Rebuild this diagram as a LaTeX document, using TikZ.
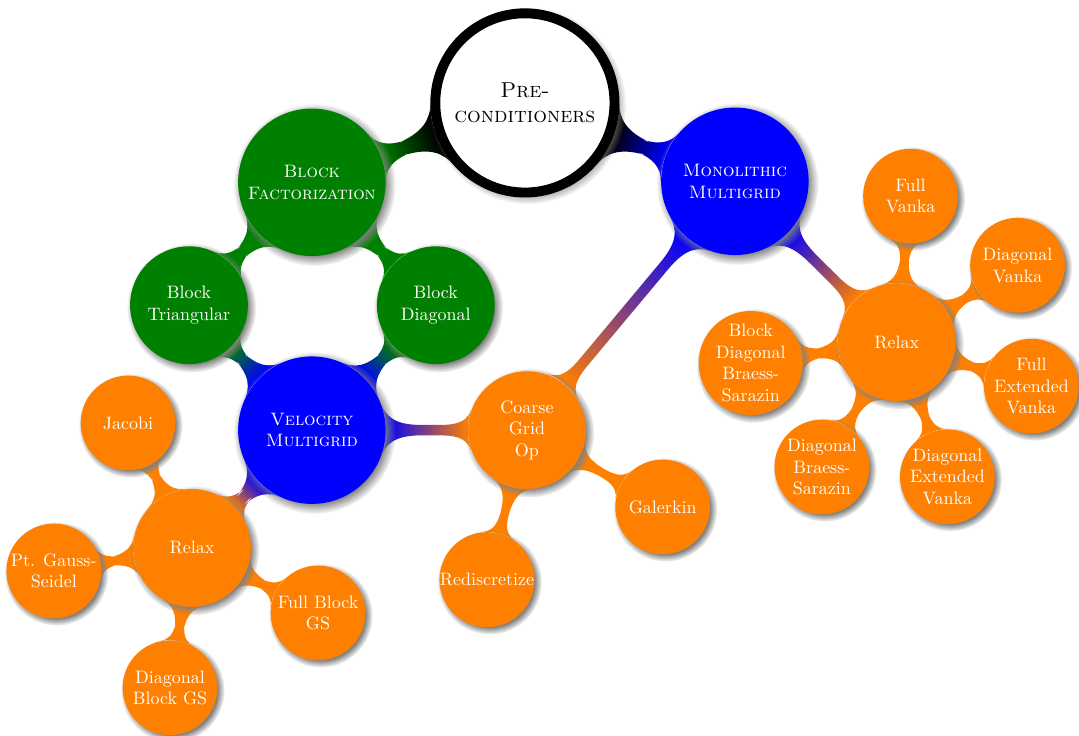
\documentclass[tikz,border=0pt]{standalone}
\usepackage{tikz}
\usetikzlibrary{mindmap,shadows,backgrounds}

\colorlet{BFc}{green!50!black}
\colorlet{MGc}{blue}
\colorlet{LFc}{orange}

\begin{document}
\begin{tikzpicture}[every node/.style={circle,align=center,inner sep=0pt,text=white,
                    circular drop shadow},
                    every circle connection bar/.append style={drop shadow}]

  \tikzstyle{rootc}=[fill=white,draw=black,line width=5.5pt,text=black,
                     minimum size=3.5cm,font=\large\scshape]
  \tikzstyle{lvlone}=[minimum size=2.88cm,font=\scshape]
  \tikzstyle{lvltwo}=[minimum size=2.3cm]
  \tikzstyle{lvlthree}=[minimum size=1.85cm,fill=LFc]

  \useasboundingbox (0,0) rectangle (21.07,14.37);

  \node[rootc] (PC) at (10.25,12.36) {Pre-\\conditioners};

  \node[lvlone,fill=BFc] (BF) at (6.09,10.81) {Block\\Factorization};  \node[lvlone,fill=MGc] (MM) at (14.35,10.83) {Monolithic\\Multigrid};

  \node[lvltwo,fill=BFc] (BT) at (3.69,8.41) {Block\\Triangular};      \node[lvltwo,fill=BFc] (BD) at (8.51,8.41) {Block\\Diagonal};

  \node[lvlone,fill=MGc] (VM) at (6.09,5.97) {Velocity\\Multigrid};    \node[lvltwo,fill=LFc] (CG) at (10.29,5.97) {Coarse\\Grid\\Op};

  \node[lvltwo,fill=LFc] (RV) at (3.75,3.67) {Relax};                  \node[lvltwo,fill=LFc] (RM) at (17.51,7.69) {Relax};

  \node[lvlthree] (JA) at (2.50,6.11) {Jacobi};                         \node[lvlthree] (PG) at (1.05,3.22) {Pt. Gauss-\\Seidel};
  \node[lvlthree] (DB) at (3.32,0.94) {Diagonal\\Block GS};             \node[lvlthree] (FB) at (6.21,2.40) {Full Block\\GS};

  \node[lvlthree] (RD) at (9.51,3.05) {Rediscretize};                   \node[lvlthree] (GA) at (12.94,4.47) {Galerkin};

  \node[lvlthree] (FV) at (17.78,10.54) {Full\\Vanka};                  \node[lvlthree] (DV) at (19.87,9.19) {Diagonal\\Vanka};
  \node[lvlthree] (FE) at (20.14,6.83) {Full\\Extended\\Vanka};         \node[lvlthree] (DE) at (18.50,5.06) {Diagonal\\Extended\\Vanka};
  \node[lvlthree] (DS) at (16.05,5.25) {Diagonal\\Braess-\\Sarazin};    \node[lvlthree] (BS) at (14.66,7.28) {Block\\Diagonal\\Braess-\\Sarazin};

  \begin{pgfonlayer}{background}
  % root to first level
  \path (PC) to[circle connection bar switch color=from (black) to (BFc)] (BF);
  \path (PC) to[circle connection bar switch color=from (black) to (MGc)] (MM);

  % block factorization side
  \path (BF) to[circle connection bar switch color=from (BFc) to (BFc)] (BT);
  \path (BF) to[circle connection bar switch color=from (BFc) to (BFc)] (BD);
  \path (BT) to[circle connection bar switch color=from (BFc) to (MGc)] (VM);
  \path (BD) to[circle connection bar switch color=from (BFc) to (MGc)] (VM);

  % multigrid
  \path (VM) to[circle connection bar switch color=from (MGc) to (LFc)] (RV);
  \path (VM) to[circle connection bar switch color=from (MGc) to (LFc)] (CG);
  \path (MM) to[circle connection bar switch color=from (MGc) to (LFc)] (CG);
  \path (MM) to[circle connection bar switch color=from (MGc) to (LFc)] (RM);

  % leaves
  \path (RV) to[circle connection bar switch color=from (LFc) to (LFc)] (JA);
  \path (RV) to[circle connection bar switch color=from (LFc) to (LFc)] (PG);
  \path (RV) to[circle connection bar switch color=from (LFc) to (LFc)] (DB);
  \path (RV) to[circle connection bar switch color=from (LFc) to (LFc)] (FB);

  \path (CG) to[circle connection bar switch color=from (LFc) to (LFc)] (RD);
  \path (CG) to[circle connection bar switch color=from (LFc) to (LFc)] (GA);

  \path (RM) to[circle connection bar switch color=from (LFc) to (LFc)] (FV);
  \path (RM) to[circle connection bar switch color=from (LFc) to (LFc)] (DV);
  \path (RM) to[circle connection bar switch color=from (LFc) to (LFc)] (FE);
  \path (RM) to[circle connection bar switch color=from (LFc) to (LFc)] (DE);
  \path (RM) to[circle connection bar switch color=from (LFc) to (LFc)] (DS);
  \path (RM) to[circle connection bar switch color=from (LFc) to (LFc)] (BS);
  \end{pgfonlayer}

 \end{tikzpicture}
\end{document}
